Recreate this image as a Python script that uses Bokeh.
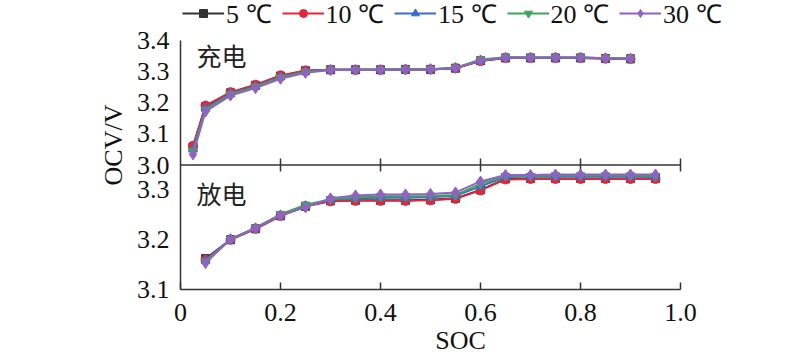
import numpy as np
from bokeh.plotting import figure
from bokeh.models import Range1d, FixedTicker, CustomJSTickFormatter, Label, Legend, LegendItem
from bokeh.embed import file_html
from bokeh.resources import INLINE

# ---------------- data ----------------
series = ["5 ℃", "10 ℃", "15 ℃", "20 ℃", "30 ℃"]
colors = ["#333333", "#e3263b", "#3c6dc5", "#3ca55c", "#9063c2"]
markers = ["square", "circle", "triangle", "inverted_triangle", "diamond"]
marker_sizes = [8, 9, 9, 9, 11]

soc_charge = [0.025, 0.05, 0.10, 0.15, 0.20, 0.25, 0.30, 0.35, 0.40, 0.45,
              0.50, 0.55, 0.60, 0.65, 0.70, 0.75, 0.80, 0.85, 0.90]
ocv_charge_5 = [3.058, 3.188, 3.232, 3.256, 3.286, 3.303, 3.306, 3.306, 3.306, 3.307,
                3.307, 3.311, 3.335, 3.344, 3.344, 3.344, 3.344, 3.342, 3.341]
ocv_charge_10 = [3.062, 3.191, 3.234, 3.258, 3.288, 3.304, 3.306, 3.306, 3.306, 3.307,
                 3.307, 3.311, 3.334, 3.344, 3.344, 3.344, 3.344, 3.342, 3.341]
ocv_charge_15 = [3.050, 3.182, 3.229, 3.253, 3.283, 3.300, 3.306, 3.306, 3.306, 3.307,
                 3.308, 3.312, 3.336, 3.345, 3.345, 3.345, 3.345, 3.343, 3.342]
ocv_charge_20 = [3.045, 3.178, 3.227, 3.251, 3.281, 3.299, 3.306, 3.306, 3.306, 3.307,
                 3.308, 3.312, 3.339, 3.346, 3.345, 3.345, 3.345, 3.343, 3.342]
ocv_charge_30 = [3.034, 3.172, 3.223, 3.247, 3.277, 3.296, 3.305, 3.306, 3.306, 3.307,
                 3.308, 3.312, 3.336, 3.345, 3.345, 3.345, 3.345, 3.343, 3.342]

soc_discharge = [0.05, 0.10, 0.15, 0.20, 0.25, 0.30, 0.35, 0.40, 0.45, 0.50,
                 0.55, 0.60, 0.65, 0.70, 0.75, 0.80, 0.85, 0.90, 0.95]
ocv_dis_5 = [3.162, 3.200, 3.222, 3.248, 3.267, 3.278, 3.279, 3.279, 3.279, 3.280,
             3.283, 3.300, 3.322, 3.323, 3.323, 3.323, 3.323, 3.323, 3.323]
ocv_dis_10 = [3.160, 3.200, 3.222, 3.248, 3.267, 3.277, 3.278, 3.278, 3.278, 3.279,
              3.282, 3.299, 3.321, 3.322, 3.322, 3.322, 3.322, 3.322, 3.322]
ocv_dis_15 = [3.158, 3.201, 3.223, 3.249, 3.268, 3.280, 3.283, 3.284, 3.284, 3.285,
              3.288, 3.307, 3.326, 3.327, 3.327, 3.327, 3.327, 3.327, 3.326]
ocv_dis_20 = [3.156, 3.201, 3.224, 3.251, 3.270, 3.281, 3.285, 3.287, 3.287, 3.288,
              3.290, 3.312, 3.328, 3.328, 3.329, 3.329, 3.329, 3.329, 3.328]
ocv_dis_30 = [3.153, 3.201, 3.223, 3.249, 3.265, 3.283, 3.289, 3.291, 3.291, 3.292,
              3.295, 3.317, 3.330, 3.330, 3.331, 3.331, 3.331, 3.331, 3.331]

charge_sets = [ocv_charge_5, ocv_charge_10, ocv_charge_15, ocv_charge_20, ocv_charge_30]
dis_sets = [ocv_dis_5, ocv_dis_10, ocv_dis_15, ocv_dis_20, ocv_dis_30]

x_ticks = [0.0, 0.2, 0.4, 0.6, 0.8, 1.0]
top_ticks = [3.0, 3.1, 3.2, 3.3, 3.4]
bot_ticks = [3.1, 3.2, 3.3]
top_lim = (3.0, 3.4)
bot_lim = (3.1, 3.35)

# ---------------- layout constants (pixels) ----------------
FRAME_H = 289          # frame spans canvas top .. bottom axis
TOP_GAP = 40           # space above the 3.4 tick (legend lives there)
PANEL_TOP_H = 124.5    # height of the charge panel
PANEL_BOT_H = FRAME_H - TOP_GAP - PANEL_TOP_H
X_EXTRA = 0.12         # room on the right so the legend is not clipped

ppv_top = PANEL_TOP_H / (top_lim[1] - top_lim[0])
TOP_START = top_lim[0] - PANEL_BOT_H / ppv_top
TOP_END = top_lim[1] + TOP_GAP / ppv_top
ppv_bot = PANEL_BOT_H / (bot_lim[1] - bot_lim[0])
BOT_START = bot_lim[0]
BOT_END = bot_lim[0] + FRAME_H / ppv_bot
scale = (TOP_END - TOP_START) / (BOT_END - BOT_START)
bot_ticks_main = [TOP_START + (v - BOT_START) * scale for v in bot_ticks]

SERIF = "Liberation Serif"
FS = "26px"
AX = "#333333"

p = figure(width=790, height=358, output_backend="svg", toolbar_location=None,
           x_range=Range1d(x_ticks[0], x_ticks[-1] + X_EXTRA),
           y_range=Range1d(TOP_START, TOP_END),
           min_border_left=180, min_border_right=50, min_border_top=0,
           min_border_bottom=69)
p.extra_y_ranges = {"bot": Range1d(BOT_START, BOT_END)}
p.outline_line_color = None
p.grid.visible = False
p.background_fill_color = None
p.border_fill_color = None

# x axis (bottom)
xa = p.xaxis[0]
xa.bounds = (x_ticks[0], x_ticks[-1])
xa.ticker = FixedTicker(ticks=x_ticks)
xa.formatter = CustomJSTickFormatter(code="return tick == 0 ? '0' : tick.toFixed(1);")
xa.major_tick_in = 7
xa.major_tick_out = 0
xa.minor_tick_line_color = None
xa.axis_line_width = 1.5
xa.axis_line_color = AX
xa.major_tick_line_width = 1.5
xa.major_tick_line_color = AX
xa.major_label_text_font = SERIF
xa.major_label_text_font_size = FS
xa.major_label_text_color = "#111111"
xa.major_label_standoff = 14
xa.axis_label = "SOC"
xa.axis_label_text_font = SERIF
xa.axis_label_text_font_size = FS
xa.axis_label_text_font_style = "normal"
xa.axis_label_text_color = "#111111"
xa.axis_label_standoff = 2

# y axis (left), shared by both panels
ya = p.yaxis[0]
ya.bounds = (TOP_START, top_lim[1])
ya.ticker = FixedTicker(ticks=top_ticks + bot_ticks_main)
ya.formatter = CustomJSTickFormatter(
    args=dict(ts=TOP_START, bs=BOT_START, sc=scale),
    code="if (tick < 2.999) { return (bs + (tick - ts) / sc).toFixed(1); } return tick.toFixed(1);")
ya.major_tick_in = 0
ya.major_tick_out = 0
ya.minor_tick_line_color = None
ya.axis_line_width = 1.5
ya.axis_line_color = AX
ya.major_label_text_font = SERIF
ya.major_label_text_font_size = FS
ya.major_label_text_color = "#111111"
ya.major_label_standoff = 11
ya.axis_label = "OCV/V"
ya.axis_label_text_font = SERIF
ya.axis_label_text_font_size = FS
ya.axis_label_text_font_style = "normal"
ya.axis_label_text_color = "#111111"
ya.axis_label_standoff = 6

# divider between the panels (from first to last x tick), with ticks both ways
p.segment(x0=[x_ticks[0]], y0=[top_lim[0]], x1=[x_ticks[-1]], y1=[top_lim[0]],
          line_color=AX, line_width=1.5)
p.scatter(x=x_ticks[1:], y=[top_lim[0]] * (len(x_ticks) - 1), marker="dash", angle=np.pi / 2,
          size=13, line_color=AX, line_width=1.5)

items = []
for name, col, mk, ms, yc, yd in zip(series, colors, markers, marker_sizes, charge_sets, dis_sets):
    r1 = p.line(soc_charge, yc, line_color=col, line_width=2)
    r2 = p.scatter(soc_charge, yc, marker=mk, size=ms, fill_color=col, line_color=col)
    p.line(soc_discharge, yd, line_color=col, line_width=2, y_range_name="bot")
    p.scatter(soc_discharge, yd, marker=mk, size=ms, fill_color=col, line_color=col,
              y_range_name="bot")
    items.append(LegendItem(label=name, renderers=[r1, r2]))

p.add_layout(Label(x=0.032, y=3.352, text="充电", text_baseline="middle",
                   text_font="Noto Sans CJK SC", text_font_size="25px", text_color="#222222"))
p.add_layout(Label(x=0.032, y=3.294, y_range_name="bot", text="放电", text_baseline="middle",
                   text_font="Noto Sans CJK SC", text_font_size="25px", text_color="#222222"))

legend = Legend(items=items, orientation="horizontal", location=(2, FRAME_H - 31),
                glyph_width=42, glyph_height=20, label_standoff=2, spacing=10,
                padding=0, margin=0, border_line_color=None, background_fill_alpha=0,
                label_text_font=SERIF, label_text_font_size=FS, label_text_color="#111111")
p.add_layout(legend, "center")

open("out.html", "w").write(file_html(p, INLINE))
